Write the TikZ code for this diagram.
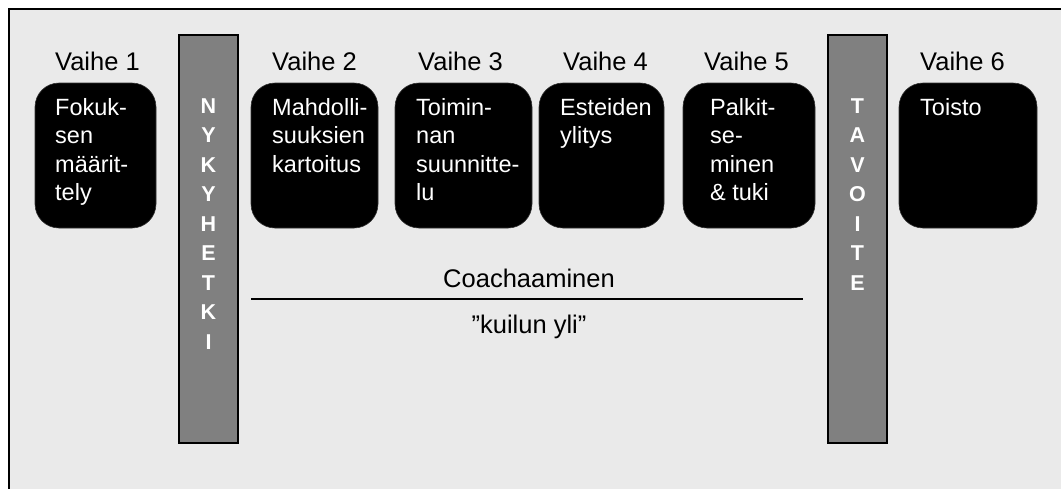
\documentclass[tikz,border=0pt]{standalone}
\usepackage{fontspec}
\setmainfont{Liberation Sans}
\definecolor{framegray}{HTML}{EAEAEA}
\definecolor{bargray}{HTML}{808080}
\tikzset{
  x=1pt, y=-1pt,
  phasebox/.style={fill=black, draw=black!80, line width=0.6pt, rounded corners=24pt},
  barbox/.style={fill=bargray, draw=black, line width=1.6pt},
  phaselabel/.style={anchor=base west, inner sep=0pt, font=\fontsize{25.5}{30}\selectfont, text=black},
  boxtext/.style={anchor=base west, inner sep=0pt, align=left, text=white, font=\fontsize{23.5}{28.5}\selectfont},
  bartext/.style={anchor=base, inner sep=0pt, align=center, text=white, font=\fontsize{21.5}{29.5}\selectfont\bfseries},
  midtext/.style={anchor=base, inner sep=0pt, font=\fontsize{25.5}{30}\selectfont, text=black},
}
\begin{document}
\begin{tikzpicture}
\useasboundingbox (0,0) rectangle (1061,488);
\fill[white] (0,0) rectangle (1061,488);
\begin{scope}
\clip (0,0) rectangle (1061,488);
\draw[fill=framegray, line width=1.6pt] (9,9) rectangle (1080,510);
\end{scope}
% bars (text anchored at the baseline of its last line)
\draw[barbox] (179,35) rectangle (238,443);
\draw[barbox] (828,35) rectangle (887,443);
\node[bartext] (bar1) at (208.5,349) {N\\Y\\K\\Y\\H\\E\\T\\K\\I};
\node[bartext] (bar2) at (857.5,290) {T\\A\\V\\O\\I\\T\\E};
% boxes
\draw[phasebox] (35,83) rectangle (156,228);
\draw[phasebox] (251,83) rectangle (378,228);
\draw[phasebox] (395,83) rectangle (532,228);
\draw[phasebox] (539,83) rectangle (664,228);
\draw[phasebox] (683,83) rectangle (815,228);
\draw[phasebox] (899,83) rectangle (1037,228);
% labels
\node[phaselabel] (lab1) at (55,70) {Vaihe 1};
\node[phaselabel] (lab2) at (272,70) {Vaihe 2};
\node[phaselabel] (lab3) at (418,70) {Vaihe 3};
\node[phaselabel] (lab4) at (563,70) {Vaihe 4};
\node[phaselabel] (lab5) at (704,70) {Vaihe 5};
\node[phaselabel] (lab6) at (920,70) {Vaihe 6};
% box texts (anchored at the baseline of the last line)
\node[boxtext] (txt1) at (55,200.5) {Fokuk-\\sen\\määrit-\\tely};
\node[boxtext] (txt2) at (272,172) {Mahdolli-\\suuksien\\kartoitus};
\node[boxtext] (txt3) at (416,200.5) {Toimin-\\nan\\suunnitte-\\lu};
\node[boxtext] (txt4) at (560,143.5) {Esteiden\\ylitys};
\node[boxtext] (txt5) at (710,200.5) {Palkit-\\se-\\minen\\\& tuki};
\node[boxtext] (txt6) at (920,115) {Toisto};
% coaching
\node[midtext] (coach) at (529,287) {Coachaaminen};
\coordinate (la) at (251,299);
\coordinate (lb) at (803,299);
\draw[line width=1.2pt] (la) -- (lb);
\node[midtext] (kuilu) at (529,333) {”kuilun yli”};
\end{tikzpicture}
\end{document}
